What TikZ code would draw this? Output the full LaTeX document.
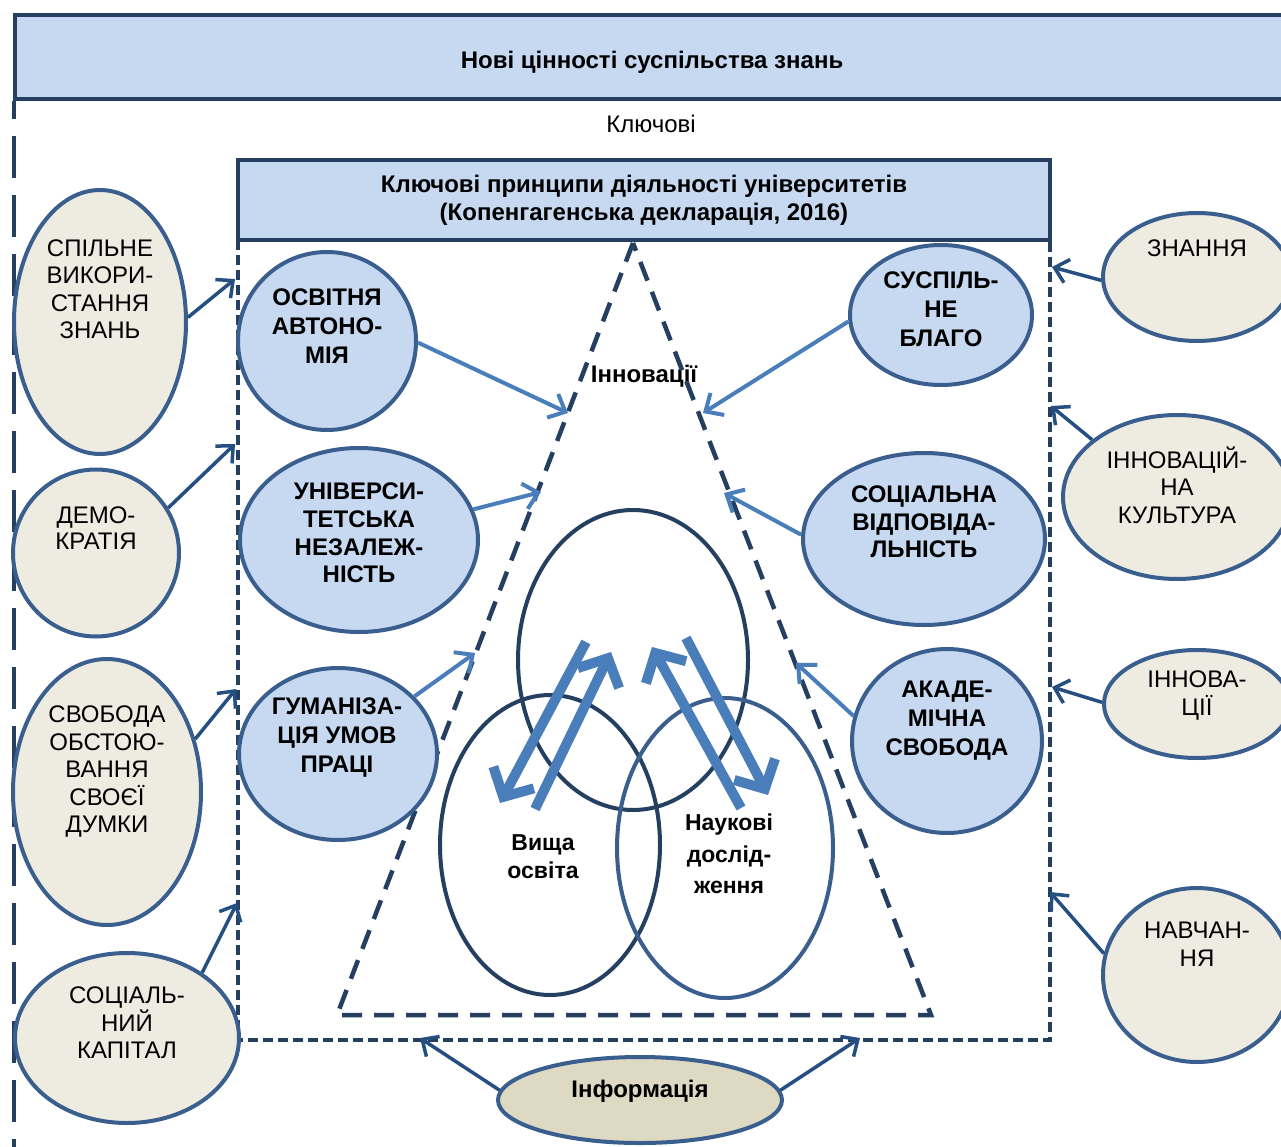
\documentclass[tikz,border=0pt]{standalone}
\usepackage{fontspec}
\setmainfont{Liberation Sans}
\usetikzlibrary{shapes.geometric,arrows.meta}
\definecolor{lblue}{HTML}{C6D9F1}
\definecolor{tanf}{HTML}{EEECE1}
\definecolor{tanf2}{HTML}{DDD9C3}
\definecolor{edgeb}{HTML}{3A5F8E}
\definecolor{navy}{HTML}{243F60}
\definecolor{arrlight}{HTML}{4A7EBB}
\definecolor{arrdark}{HTML}{254F80}
\begin{document}
\begin{tikzpicture}[x=1pt,y=-1pt,
  tanell/.style={ellipse, draw=edgeb, line width=4pt, fill=tanf, inner sep=0pt},
  blueell/.style={ellipse, draw=edgeb, line width=4pt, fill=lblue, inner sep=0pt},
  vennell/.style={ellipse, line width=4pt, inner sep=0pt},
  lbl/.style={align=center, inner sep=0pt, font=\fontsize{24}{27.5}\selectfont},
  blbl/.style={align=center, inner sep=0pt, font=\fontsize{24}{29}\selectfont\bfseries},
  darr/.style={draw=arrdark, line width=3.5pt, -{Straight Barb[length=13pt,width=24pt]}},
  larr/.style={draw=arrlight, line width=4pt, -{Straight Barb[length=14pt,width=26pt]}},
  bigarr/.style={draw=arrlight, line width=10pt, -{Straight Barb[length=22pt,width=46pt]}},
  navydash/.style={draw=navy, line width=4pt}
]
\useasboundingbox (0,0) rectangle (1281,1147);
\fill[white] (0,0) rectangle (1281,1147);

% top box
\node[draw=navy, line width=4pt, fill=lblue, minimum width=1274pt, minimum height=84pt, inner sep=0pt] (top) at (652,57) {};
\node[inner sep=0pt, font=\fontsize{24}{28}\selectfont\bfseries] (topT) at (652,62) {Нові цінності суспільства знань};
\node[inner sep=0pt, font=\fontsize{24}{28}\selectfont] (klT) at (651,124) {Ключові};

% outer dashed line
\draw[navydash, dash pattern=on 42pt off 17pt, dash phase=24pt] (14,101) -- (14,1150);

% inner dashed rect
\draw[navydash, dash pattern=on 10pt off 5pt] (238,240) -- (238,1040) -- (1050,1040) -- (1050,240);

% header
\node[draw=navy, line width=4pt, fill=lblue, minimum width=812pt, minimum height=80pt, inner sep=0pt,
  align=center, font=\fontsize{24}{28}\selectfont\bfseries] (hdr) at (644,200)
  {Ключові принципи діяльності університетів\\(Копенгагенська декларація, 2016)};

% triangle
\coordinate (apex) at (633,243);
\coordinate (tbl) at (337,1015);
\coordinate (tbr) at (931,1015);
\node[inner sep=0pt, font=\fontsize{24}{28}\selectfont\bfseries] (innovT) at (644,376) {Інновації};
\draw[draw=navy, line width=4.5pt, dash pattern=on 20pt off 12pt] (apex) -- (tbl) -- (tbr) -- cycle;

% Venn
\node[vennell, draw=navy, minimum width=230pt, minimum height=300pt] (vtop) at (633,660) {};
\node[vennell, draw=navy, minimum width=220pt, minimum height=300pt] (vleft) at (550,845) {};
\node[vennell, draw=edgeb, minimum width=216pt, minimum height=300pt] (vright) at (725,848) {};
\node[align=center, inner sep=0pt, font=\fontsize{23}{28}\selectfont\bfseries] (vyshT) at (543,857) {Вища\\освіта};
\node[align=center, inner sep=0pt, font=\fontsize{23}{31.5}\selectfont\bfseries] (naukT) at (729,854) {Наукові\\дослід-\\ження};

% big arrows
\coordinate (b1s) at (586,642); \coordinate (b1e) at (500,803);
\coordinate (b2s) at (535,809); \coordinate (b2e) at (611,652);
\coordinate (b3s) at (741,808); \coordinate (b3e) at (652,647);
\coordinate (b4s) at (686,638); \coordinate (b4e) at (768,795);
\draw[bigarr] (b1s) -- (b1e);
\draw[bigarr] (b2s) -- (b2e);
\draw[bigarr] (b3s) -- (b3e);
\draw[bigarr] (b4s) -- (b4e);

% tan ellipses left
\node[tanell, minimum width=172pt, minimum height=264pt] (spil) at (100,322) {};
\node[lbl] (spilT) at (100,289) {СПІЛЬНЕ\\ВИКОРИ-\\СТАННЯ\\ЗНАНЬ};
\node[tanell, minimum width=166pt, minimum height=167pt] (demo) at (96,553) {};
\node[lbl, font=\fontsize{24}{26}\selectfont] (demoT) at (96,528) {ДЕМО-\\КРАТІЯ};
\node[tanell, minimum width=188pt, minimum height=266pt] (svob) at (107,792) {};
\node[lbl] (svobT) at (107,772) {СВОБОДА\\ОБСТОЮ-\\ВАННЯ\\СВОЄЇ\\ДУМКИ};
\node[tanell, minimum width=224pt, minimum height=170pt] (socp) at (127,1038) {};
\node[lbl] (socpT) at (127,1023) {СОЦІАЛЬ-\\НИЙ\\КАПІТАЛ};

% tan ellipses right
\node[tanell, minimum width=188pt, minimum height=128pt] (znan) at (1197,277) {};
\node[lbl] (znanT) at (1197,248) {ЗНАННЯ};
\node[tanell, minimum width=228pt, minimum height=164pt] (innk) at (1177,497) {};
\node[lbl] (innkT) at (1177,485) {ІННОВАЦІЙ-\\НА\\КУЛЬТУРА};
\node[tanell, minimum width=186pt, minimum height=108pt] (innv) at (1197,704) {};
\node[lbl, font=\fontsize{24}{28}\selectfont] (innvT) at (1197,696) {ІННОВА-\\ЦІЇ};
\node[tanell, minimum width=188pt, minimum height=174pt] (navch) at (1197,975) {};
\node[lbl, font=\fontsize{24}{28}\selectfont] (navchT) at (1197,944) {НАВЧАН-\\НЯ};

% information
\node[ellipse, draw=edgeb, line width=4pt, fill=tanf2, inner sep=0pt, minimum width=284pt, minimum height=86pt] (info) at (640,1100) {};
\node[inner sep=0pt, font=\fontsize{24}{28}\selectfont\bfseries] (infoT) at (640,1091) {Інформація};

% blue ellipses
\node[blueell, minimum width=178pt, minimum height=178pt] (osv) at (327,341) {};
\node[blbl] (osvT) at (327,326) {ОСВІТНЯ\\АВТОНО-\\МІЯ};
\node[blueell, minimum width=238pt, minimum height=184pt] (univ) at (359,540) {};
\node[blbl, font=\fontsize{24}{27.7}\selectfont\bfseries] (univT) at (359,533) {УНІВЕРСИ-\\ТЕТСЬКА\\НЕЗАЛЕЖ-\\НІСТЬ};
\node[blueell, minimum width=198pt, minimum height=172pt] (gum) at (338,754) {};
\node[blbl] (gumT) at (337,738) {ГУМАНІЗА-\\ЦІЯ УМОВ\\ПРАЦІ};
\node[blueell, minimum width=182pt, minimum height=140pt] (susp) at (941,315) {};
\node[blbl] (suspT) at (941,309) {СУСПІЛЬ-\\НЕ\\БЛАГО};
\node[blueell, minimum width=242pt, minimum height=172pt] (socv) at (924,539) {};
\node[blbl, font=\fontsize{24}{27.5}\selectfont\bfseries] (socvT) at (924,522) {СОЦІАЛЬНА\\ВІДПОВІДА-\\ЛЬНІСТЬ};
\node[blueell, minimum width=190pt, minimum height=184pt] (akad) at (947,741) {};
\node[blbl] (akadT) at (947,721) {АКАДЕ-\\МІЧНА\\СВОБОДА};

% arrow targets
\coordinate (t1) at (235,279);
\coordinate (t2) at (235,444);
\coordinate (t3) at (236,689);
\coordinate (t4) at (237,903);
\coordinate (t5) at (1052,267);
\coordinate (t6) at (1051,406);
\coordinate (t7) at (1052,687);
\coordinate (t8) at (1050,892);
\coordinate (t9) at (420,1038);
\coordinate (t10) at (860,1038);
\coordinate (l1) at (568,413);
\coordinate (l2) at (541,492);
\coordinate (l3) at (475,653);
\coordinate (l4) at (703,413);
\coordinate (l5) at (724,493);
\coordinate (l6) at (796,663);

% dark arrows
\draw[darr] (spil.3) -- (t1);
\draw[darr] (demo.32) -- (t2);
\draw[darr] (svob.31) -- (t3);
\draw[darr] (socp.41) -- (t4);
\draw[darr] (znan.182) -- (t5);
\draw[darr] (innk.146) -- (t6);
\draw[darr] (innv.179) -- (t7);
\draw[darr] (navch.167) -- (t8);
\draw[darr] (info.176) -- (t9);
\draw[darr] (info.4) -- (t10);

% light arrows
\draw[larr] (osv.-1) -- (l1);
\draw[larr] (univ.15) -- (l2);
\draw[larr] (gum.37) -- (l3);
\draw[larr] (susp.184) -- (l4);
\draw[larr] (socv.178) -- (l5);
\draw[larr] (akad.165) -- (l6);
\end{tikzpicture}
\end{document}
